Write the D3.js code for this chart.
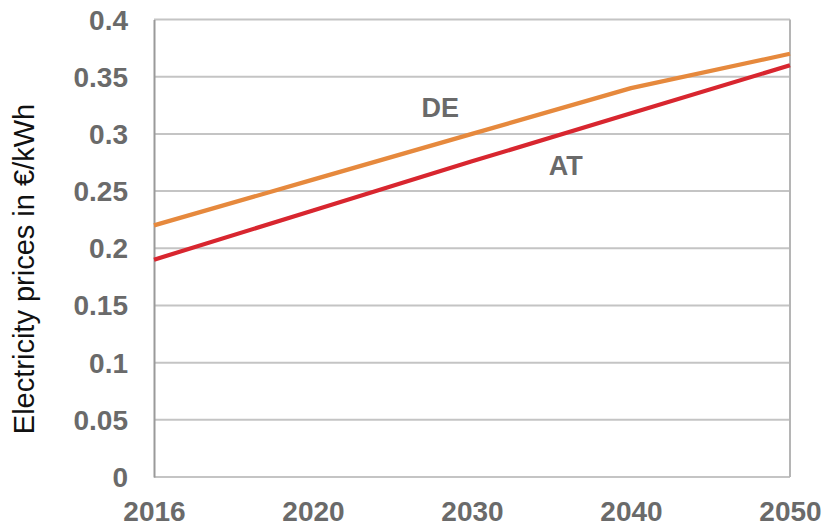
<!DOCTYPE html>
<html>
<head>
<meta charset="utf-8">
<script src="https://cdn.jsdelivr.net/npm/d3@7"></script>
<style>
  html, body { margin: 0; padding: 0; background: #fff; }
  svg { display: block; }
  text { font-family: "Liberation Sans", Arial, sans-serif; }
</style>
</head>
<body>
<svg id="chart" width="823" height="529"></svg>
<script>
// Projected electricity prices (€/kWh)
const years = ["2016", "2020", "2030", "2040", "2050"];
const pricesDE = [0.22, 0.26, 0.30, 0.34, 0.37];
const pricesAT = [0.19, 0.233, 0.276, 0.318, 0.36];
const yTicks = [0, 0.05, 0.1, 0.15, 0.2, 0.25, 0.3, 0.35, 0.4];
const yTickLabels = ["0", "0.05", "0.1", "0.15", "0.2", "0.25", "0.3", "0.35", "0.4"];

// Series name labels, placed in category-index / value space
const seriesNames = ["DE", "AT"];
const nameIndex = [1.80, 2.59];
const nameValue = [0.315, 0.264];

const seriesValues = [pricesDE, pricesAT];
const seriesColors = ["#e6893d", "#d8262f"];

const svg = d3.select("#chart");
const margin = { top: 19.5, right: 33, bottom: 52, left: 154 };
const W = 823, H = 529;
const innerW = W - margin.left - margin.right;
const innerH = H - margin.top - margin.bottom;

const g = svg.append("g").attr("transform", `translate(${margin.left},${margin.top})`);

const x = d3.scalePoint().domain(years).range([0, innerW]);
const xi = d3.scaleLinear().domain([0, years.length - 1]).range([0, innerW]);
const y = d3.scaleLinear().domain([0, 0.4]).range([innerH, 0]);

// horizontal gridlines (the top one closes the frame)
g.append("g")
  .selectAll("line")
  .data(yTicks)
  .join("line")
  .attr("x1", 0).attr("x2", innerW)
  .attr("y1", d => y(d)).attr("y2", d => y(d))
  .attr("stroke", "#c4c4c4")
  .attr("stroke-width", 2);

// right frame edge
g.append("line")
  .attr("x1", innerW).attr("x2", innerW)
  .attr("y1", y(0.4)).attr("y2", y(0))
  .attr("stroke", "#b5b5b5")
  .attr("stroke-width", 2);

// y axis
const yAxis = g.append("g")
  .call(d3.axisLeft(y).tickValues(yTicks).tickSize(0).tickPadding(26)
    .tickFormat((d, i) => yTickLabels[i]));
yAxis.select(".domain").attr("stroke", "#9a9a9a").attr("stroke-width", 2);
yAxis.selectAll("text")
  .attr("fill", "#6a6a6a")
  .attr("font-size", 28)
  .attr("font-weight", "bold")
  .attr("dy", "0.34em");

// x axis
const xAxis = g.append("g")
  .attr("transform", `translate(0,${innerH})`)
  .call(d3.axisBottom(x).tickSize(0).tickPadding(24));
xAxis.select(".domain").remove();
xAxis.selectAll("text")
  .attr("fill", "#6a6a6a")
  .attr("font-size", 28)
  .attr("font-weight", "bold")
  .attr("dy", "0.72em");

// price lines
const line = d3.line()
  .x((d, i) => x(years[i]))
  .y(d => y(d));

g.selectAll("path.series")
  .data(seriesValues)
  .join("path")
  .attr("class", "series")
  .attr("fill", "none")
  .attr("stroke", (d, i) => seriesColors[i])
  .attr("stroke-width", 4.2)
  .attr("stroke-linejoin", "round")
  .attr("d", line);

// series names
g.selectAll("text.name")
  .data(seriesNames)
  .join("text")
  .attr("class", "name")
  .attr("x", (d, i) => xi(nameIndex[i]))
  .attr("y", (d, i) => y(nameValue[i]))
  .attr("text-anchor", "middle")
  .attr("fill", "#6a6a6a")
  .attr("font-size", 27)
  .attr("font-weight", "bold")
  .text(d => d);

// y axis title
svg.append("text")
  .attr("transform", `translate(33.5,${269}) rotate(-90)`)
  .attr("text-anchor", "middle")
  .attr("fill", "#111")
  .attr("font-size", 29)
  .text("Electricity prices in €/kWh");
</script>
</body>
</html>
